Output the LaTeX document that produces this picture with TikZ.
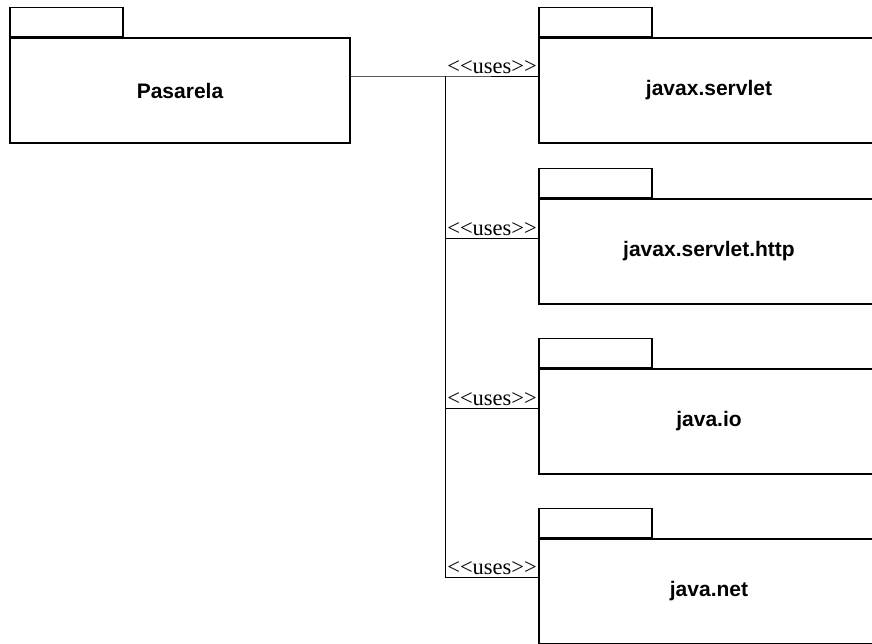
\documentclass[tikz,border=0pt]{standalone}
\usepackage{fontspec}
\setmainfont{Liberation Serif}
\setsansfont{Liberation Sans}
\begin{document}
\begin{tikzpicture}[x=1pt,y=-1pt,
  pkg/.style={draw, line width=1.4pt, rectangle, minimum width=340pt, minimum height=105pt,
    inner sep=0pt, font=\fontsize{21}{24}\selectfont\sffamily\bfseries},
  pkgtab/.style={draw, line width=1.4pt, rectangle, minimum width=113pt, minimum height=29pt,
    inner sep=0pt, anchor=south west},
  uses/.style={draw, line width=0.9pt},
  useslbl/.style={font=\fontsize{22.5}{24}\selectfont, anchor=south east, inner sep=1pt, yshift=1pt}
]
\useasboundingbox (0,0) rectangle (872,644);
\clip (0,0) rectangle (872,644);

% packages
\node[pkg] (pas) at (180,90.5) {Pasarela};
\node[pkgtab] (pastab) at (pas.north west) {};

\node[pkg] (servlet) at (709,90.5) {javax.servlet};
\node[pkgtab] (servlettab) at (servlet.north west) {};

\node[pkg] (http) at (709,251.5) {javax.servlet.http};
\node[pkgtab] (httptab) at (http.north west) {};

\node[pkg] (io) at (709,421.5) {java.io};
\node[pkgtab] (iotab) at (io.north west) {};

\node[pkg] (net) at (709,591.5) {java.net};
\node[pkgtab] (nettab) at (net.north west) {};

% dependency trunk
\coordinate (trunk) at (445,76);

\newcommand{\usesText}{{<}{<}uses{>}{>}}
\draw[uses] ([yshift=14.5pt]pas.east) -- (trunk)
  -- node[useslbl, pos=1] {\usesText} ([yshift=14.5pt]servlet.west);
\draw[uses] (trunk) |- node[useslbl, pos=1] {\usesText} ([yshift=13.5pt]http.west);
\draw[uses] (trunk) |- node[useslbl, pos=1] {\usesText} ([yshift=13.5pt]io.west);
\draw[uses] (trunk) |- node[useslbl, pos=1] {\usesText} ([yshift=14.5pt]net.west);
\end{tikzpicture}
\end{document}
